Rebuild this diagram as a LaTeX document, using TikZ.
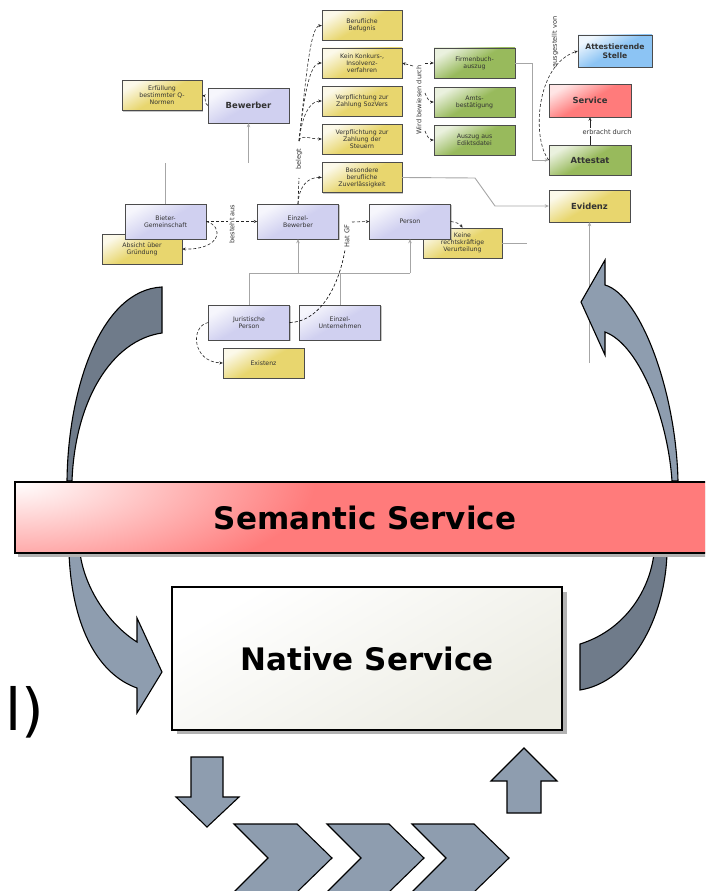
\documentclass[tikz,border=0pt]{standalone}
\usepackage{fontspec}
\setmainfont{DejaVu Sans}
\usetikzlibrary{shadows,arrows.meta}

\definecolor{ygold}{HTML}{E8D66E}
\definecolor{lilac}{HTML}{D0D0F0}
\definecolor{leaf}{HTML}{98BA5C}
\definecolor{rosy}{HTML}{FF7B7B}
\definecolor{skyb}{HTML}{8CC4F4}
\definecolor{slate}{HTML}{8E9DAF}
\definecolor{slatedk}{HTML}{6F7B8A}
\definecolor{paper}{HTML}{ECECE3}

\newcommand{\smalltxt}{\fontsize{6.2}{6.9}\selectfont}
\newcommand{\celltitle}{\fontsize{8.4}{9.4}\selectfont\bfseries}
\newcommand{\bigtitle}{\fontsize{31}{31}\selectfont\bfseries}

\tikzset{
  cell/.style={draw=black!70, rectangle, align=center, inner sep=1pt,
    text=black!80, font=\smalltxt,
    drop shadow={shadow xshift=1pt, shadow yshift=-1pt, opacity=.45}},
  ycell/.style={cell, minimum width=80pt, minimum height=30pt,
    top color=ygold!15!white, bottom color=ygold, middle color=ygold, shading angle=30},
  lcell/.style={cell, minimum width=81pt, minimum height=35pt,
    top color=lilac!20!white, bottom color=lilac, middle color=lilac, shading angle=30},
  gcell/.style={cell, minimum width=81pt, minimum height=30pt,
    top color=leaf!20!white, bottom color=leaf, middle color=leaf, shading angle=30},
  lbl/.style={font=\fontsize{6.6}{7}\selectfont, fill=white, inner sep=1pt, text=black!80},
  rel/.style={densely dashed, line width=.6pt, black!85, -{Stealth[length=3.5pt,width=3pt]}},
  gline/.style={draw=black!35, line width=.9pt},
  gen/.style={gline, -{Stealth[length=4pt,width=3.5pt]}},
  fat/.style={draw=black, line width=1.1pt, fill=slate, line join=miter},
  bar/.style={draw=black, line width=1.2pt, minimum width=700pt, minimum height=71pt, font=\bigtitle},
}

\begin{document}
\begin{tikzpicture}[x=1pt, y=-1pt]
  \useasboundingbox (0,0) rectangle (705,891);
  \clip (0,0) rectangle (705,891);

  \node (befugnis) [ycell] at (362,25.5) {Berufliche\\Befugnis};
  \node (konkurs) [ycell] at (362,63) {Kein Konkurs-,\\Insolvenz-\\verfahren};
  \node (sozvers) [ycell] at (362,101) {Verpflichtung zur\\Zahlung SozVers};
  \node (steuern) [ycell] at (362,139) {Verpflichtung zur\\Zahlung der\\Steuern};
  \node (besondere) [ycell] at (362,177.5) {Besondere\\berufliche\\Zuverlässigkeit};
  \node (qnormen) [ycell] at (162,95.5) {Erfüllung\\bestimmter Q-\\Normen};
  \node (absicht) [ycell] at (142,249) {Absicht über\\Gründung};
  \node (keine) [ycell, minimum width=79pt] at (462.5,243) {Keine\\rechtskräftige\\Verurteilung};
  \node (existenz) [ycell, minimum width=81pt] at (263.5,363) {Existenz};
  \node (evidenz) [ycell, minimum width=81pt, minimum height=32pt, font=\celltitle] at (589.5,206) {Evidenz};

  \node (bewerber) [lcell, font=\celltitle] at (248.5,105.5) {Bewerber};
  \node (bieter) [lcell] at (165.5,221.5) {Bieter-\\Gemeinschaft};
  \node (einzelbew) [lcell] at (298,221.5) {Einzel-\\Bewerber};
  \node (person) [lcell] at (410,221.5) {Person};
  \node (juristisch) [lcell] at (249,322.5) {Juristische\\Person};
  \node (unternehmen) [lcell] at (340,322.5) {Einzel-\\Unternehmen};

  \node (firmenbuch) [gcell] at (474.5,63) {Firmenbuch-\\auszug};
  \node (amts) [gcell] at (474.5,102) {Amts-\\bestätigung};
  \node (edikt) [gcell] at (474.5,140) {Auszug aus\\Ediktsdatei};
  \node (attestat) [gcell, minimum width=82pt, font=\celltitle] at (590,160) {Attestat};

  \node (service) [cell, minimum width=82pt, minimum height=33pt, font=\celltitle,
    top color=rosy!20!white, bottom color=rosy, middle color=rosy, shading angle=30] at (590,100.5) {Service};
  \node (attest) [cell, minimum width=74pt, minimum height=32pt, font=\fontsize{7.6}{8.6}\selectfont\bfseries,
    top color=skyb!15!white, bottom color=skyb, middle color=skyb, shading angle=30] at (615,51) {Attestierende\\Stelle};

  \draw[rel] (bewerber.west) .. controls (204,104) and (206,96) .. (qnormen.east);
  \draw[rel] (bieter.east) .. controls (224,226) and (222,250) .. (absicht.east);
  \draw[rel] (bieter.east) -- (einzelbew.west);
  \node (bestehtaus) [lbl, rotate=90] at (232,224) {besteht aus};

  \coordinate (bel1) at (299,178);
  \coordinate (bel2) at (299,141);
  \draw[densely dashed, line width=.6pt] (einzelbew.north) -- (bel1);
  \node (belegt) [lbl, rotate=90] at (299,159) {belegt};
  \draw[rel] (einzelbew.north) .. controls (299,186) and (308,177) .. (besondere.west);
  \draw[rel] (bel2) .. controls (301,134) and (310,139) .. (steuern.west);
  \draw[rel] (bel2) .. controls (302,115) and (310,101) .. (sozvers.west);
  \draw[rel] (bel2) .. controls (304,95) and (310,63) .. (konkurs.west);
  \draw[rel] (bel2) .. controls (306,80) and (310,26) .. (befugnis.west);

  \node (wird) [lbl, rotate=90] at (419,100) {Wird bewiesen durch};
  \coordinate (wb1) at (413,66);
  \coordinate (wb2) at (425,63);
  \coordinate (wb3) at (425,93);
  \coordinate (wb4) at (425,131);
  \draw[rel] (wb1) -- (konkurs.east);
  \draw[rel] (wb2) -- (firmenbuch.west);
  \draw[rel] (wb3) .. controls (427,99) and (430,102) .. (amts.west);
  \draw[rel] (wb4) .. controls (427,137) and (430,140) .. (edikt.west);

  \coordinate (fb) at (532,63);
  \draw[gen] (firmenbuch.east) -- (fb) |- (attestat.west);
  \node (ausgestellt) [lbl, rotate=90] at (555,42) {ausgestellt von};
  \draw[rel] (attestat.west) .. controls (532,140) and (535,65) .. (attest.west);
  \draw[black!85, line width=.6pt, -{Stealth[length=3.5pt,width=3pt]}] (attestat.north) -- (service.south);
  \node (erbracht) [lbl] at (607,132) {erbracht durch};

  \coordinate (be1) at (475,178);
  \coordinate (be2) at (495,206);
  \draw[gen] (besondere.east) -- (be1) -- (be2) -- (evidenz.west);
  \coordinate (ke) at (527,243);
  \draw[gline] (keine.east) -- (ke);
  \coordinate (ev) at (589.5,363);
  \draw[gen] (ev) -- (evidenz.south);

  \draw[rel] (person.east) .. controls (456,222) and (460,224) .. (keine.north);
  \coordinate (hg1) at (345,250);
  \coordinate (hg2) at (352,222);
  \draw[densely dashed, line width=.6pt] (juristisch.east) .. controls (318,322) and (338,290) .. (hg1);
  \node (hatgf) [lbl, rotate=90] at (347,236) {Hat GF};
  \draw[rel] (hg2) -- (person.west);
  \draw[rel] (juristisch.west) .. controls (190,326) and (192,362) .. (existenz.west);

  \coordinate (ga) at (249,273);
  \coordinate (gb) at (410,273);
  \coordinate (gc) at (298,273);
  \coordinate (gd) at (340,273);
  \draw[gline] (juristisch.north) -- (ga) -- (gb);
  \draw[gline] (unternehmen.north) -- (gd);
  \draw[gen] (gc) -- (einzelbew.south);
  \draw[gen] (gb) -- (person.south);
  \coordinate (bw1) at (165.5,163);
  \coordinate (bw2) at (248.5,163);
  \draw[gline] (bieter.north) -- (bw1);
  \draw[gen] (bw2) -- (bewerber.south);

  \path[fat, fill=slatedk] (67,481) .. controls (68,390) and (100,290) .. (162,287)
    -- (162,333) .. controls (112,340) and (75,400) .. (72,481) -- cycle;
  \path[fat] (581,302) -- (605,260) -- (605,285) .. controls (640,295) and (676,390) .. (678,481)
    -- (672,481) .. controls (668,420) and (640,345) .. (605,332) -- (605,355) -- cycle;
  \path[fat] (69,553) .. controls (72,630) and (100,675) .. (137,688) -- (137,713) -- (162,672)
    -- (137,618) -- (137,642) .. controls (110,625) and (85,590) .. (80,553) -- cycle;
  \path[fat, fill=slatedk] (580,644) .. controls (625,630) and (650,590) .. (654,553)
    -- (667,553) .. controls (665,620) and (630,682) .. (580,690) -- cycle;

  \fill[gray!60] (18,486) rectangle (712,557);
  \fill[rosy] (15,482) rectangle (715,553);
  \begin{scope}
    \clip (15,482) rectangle (715,553);
    \shade[inner color=white, outer color=rosy] (15,482) ellipse [x radius=300, y radius=110];
  \end{scope}
  \node (semantic) [bar] at (365,517.5) {Semantic Service};

  \fill[gray!60] (177,592) rectangle (567,734);
  \node (native) [draw=black, line width=1.2pt, minimum width=390pt, minimum height=143pt,
    font=\bigtitle, top color=white, bottom color=paper, shading angle=30] at (367,658.5) {Native Service};

  \node (cut) [anchor=base west, font=\fontsize{58}{58}\selectfont] at (2,730) {l)};

  \path[fat] (191,757) -- (223,757) -- (223,797) -- (239,797) -- (207,827) -- (176,797) -- (191,797) -- cycle;
  \path[fat] (507,813) -- (541,813) -- (541,781) -- (557,781) -- (524,748) -- (491,781) -- (507,781) -- cycle;
  \path[fat] (234,824) -- (297,824) -- (332,858) -- (297,892) -- (234,892) -- (268,858) -- cycle;
  \path[fat] (327,824) -- (389,824) -- (424,858) -- (389,892) -- (327,892) -- (361,858) -- cycle;
  \path[fat] (412,824) -- (474,824) -- (509,858) -- (474,892) -- (412,892) -- (446,858) -- cycle;
\end{tikzpicture}
\end{document}
